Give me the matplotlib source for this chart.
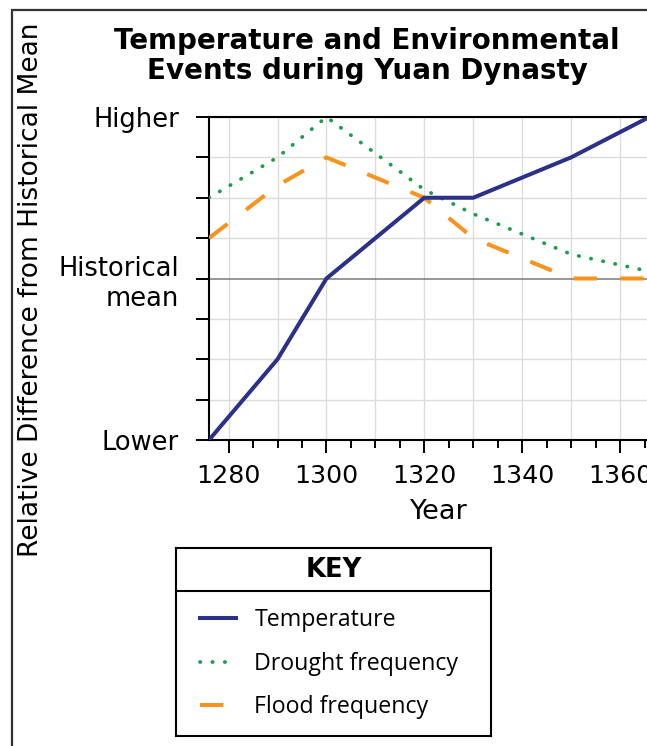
import numpy as np
import matplotlib
matplotlib.use("Agg")
import matplotlib.pyplot as plt
from matplotlib.patches import Rectangle

navy = "#2b3088"
green = "#1b9e4b"
orange = "#f7941d"

# Relative difference from historical mean (0 = mean, +4 = Higher, -4 = Lower)
temp_years = [1276, 1290, 1300, 1320, 1330, 1350, 1366]
temp_vals = [-4, -2, 0, 2, 2, 3, 4]
drought_years = [1276, 1290, 1300, 1320, 1330, 1350, 1370]
drought_vals = [2, 3, 4, 2.2, 1.6, 0.6, 0.07]
flood_years = [1276, 1290, 1300, 1320, 1330, 1350, 1370]
flood_vals = [1, 2.3, 3, 2, 1, 0, 0]

ytick_vals = [-4, -3, -2, -1, 0, 1, 2, 3, 4]
ytick_text = ["Lower", "", "", "", "Historical\nmean", "", "", "", "Higher"]
xtick_vals = [1280, 1300, 1320, 1340, 1360]
key_labels = ["Temperature", "Drought frequency", "Flood frequency"]

fig = plt.figure(figsize=(6.47, 7.46), dpi=100)
plt.rcParams['font.family'] = 'DejaVu Sans'

# outer frame (cropped on right and bottom)
fig.patches.append(Rectangle((12/647, -0.1), 1.2, 1 - 10/746 + 0.1, transform=fig.transFigure,
                             fill=False, edgecolor="#333333", linewidth=1.6))

ax = fig.add_axes([209/647, 1 - 440/746, (669 - 209)/647, (440 - 117)/746])
ax.set_xlim(1276, 1370)
ax.set_ylim(-4, 4)

# grid: every 10 years, every y step; historical mean darker
for yr in np.arange(1280, 1371, 10):
    ax.axvline(yr, color="#dcdcdc", lw=1.0, zorder=0)
for v in ytick_vals:
    if v == 0:
        ax.axhline(v, color="#7a7a7a", lw=1.1, zorder=0.5)
    else:
        ax.axhline(v, color="#dcdcdc", lw=1.0, zorder=0)

ax.set_xticks(xtick_vals)
ax.set_xticklabels([str(x) for x in xtick_vals])
ax.set_xticks(np.arange(1280, 1371, 5), minor=True)
ax.set_yticks(ytick_vals)
ax.set_yticklabels(ytick_text, multialignment="right")

ax.tick_params(axis="x", which="major", length=9, width=1.4, pad=8, labelsize=18.3, color="black")
ax.tick_params(axis="x", which="minor", length=6, width=1.4, color="black")
ax.tick_params(axis="y", which="major", length=9.5, width=1.4, pad=12, labelsize=18.5, color="black")

for s in ["left", "bottom", "top"]:
    ax.spines[s].set_linewidth(1.5)
    ax.spines[s].set_color("black")
ax.spines["right"].set_visible(False)

ax.plot(drought_years, drought_vals, color=green, lw=2.7, linestyle=(0, (0.1, 3.2)),
        dash_capstyle="round", label=key_labels[1], zorder=3)
ax.plot(flood_years, flood_vals, color=orange, lw=2.9, linestyle=(0, (5.8, 5.8)),
        label=key_labels[2], zorder=3)
ax.plot(temp_years, temp_vals, color=navy, lw=2.9, label=key_labels[0], zorder=4)

ax.set_xlabel("Year", fontsize=19.5, labelpad=8)

fig.text(31/647, 1 - 290/746, "Relative Difference from Historical Mean", rotation=90,
         ha="center", va="center", fontsize=19)
fig.text(367/647, 1 - 56/746, "Temperature and Environmental\nEvents during Yuan Dynasty",
         ha="center", va="center", fontsize=20, fontweight="bold", linespacing=1.05)

# key box
kax = fig.add_axes([176/647, 1 - 736/746, (491 - 176)/647, (736 - 548)/746])
kax.set_xlim(0, 1)
kax.set_ylim(0, 1)
kax.set_xticks([])
kax.set_yticks([])
for s in kax.spines.values():
    s.set_linewidth(1.5)
    s.set_color("black")
kax.axhline(0.771, color="black", lw=1.5)
kax.text(0.5, 0.883, "KEY", ha="center", va="center", fontsize=18.5, fontweight="bold")
handles, labels = ax.get_legend_handles_labels()
order = [labels.index(k) for k in key_labels]
kax.legend([handles[i] for i in order], [labels[i] for i in order],
           loc="center left", bbox_to_anchor=(0.076, 0.385), frameon=False,
           borderpad=0, borderaxespad=0, handlelength=1.55, handletextpad=0.8,
           labelspacing=0.85, prop={"family": "Open Sans", "size": 16.7})

fig.savefig("out.png", dpi=100)
